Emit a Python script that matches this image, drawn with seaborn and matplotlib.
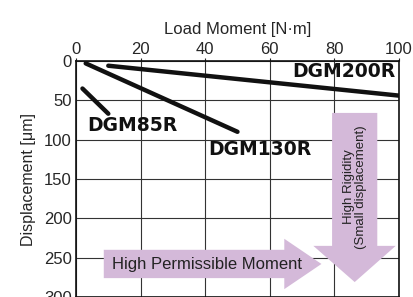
import pandas as pd
import matplotlib.pyplot as plt
import matplotlib.patches as mpatches
import seaborn as sns

# line end points
models = ["DGM85R", "DGM130R", "DGM200R"]
moment_85 = [2, 10]
disp_85 = [35, 67]
moment_130 = [3, 50]
disp_130 = [3, 90]
moment_200 = [10, 100]
disp_200 = [6, 44]

xticks = [0, 20, 40, 60, 80, 100]
yticks = [0, 50, 100, 150, 200, 250, 300]

df = pd.DataFrame({
    "model": ["DGM85R"] * 2 + ["DGM130R"] * 2 + ["DGM200R"] * 2,
    "moment": moment_85 + moment_130 + moment_200,
    "disp": disp_85 + disp_130 + disp_200,
})

sns.set_theme(style="white")
plt.rcParams['font.family'] = ['Liberation Sans Narrow', 'Liberation Sans', 'DejaVu Sans']

fig = plt.figure(figsize=(4.14, 2.97), dpi=100)
ax = fig.add_axes([0.1836, 0.0, 0.78, 0.7946])

arrow_col = "#d4b9d9"
# horizontal arrow: High Permissible Moment
ax.add_patch(mpatches.Polygon(
    [(8.6, 240), (64.5, 240), (64.5, 226), (76, 258), (64.5, 290), (64.5, 276), (8.6, 276)],
    closed=True, facecolor=arrow_col, edgecolor="none", zorder=1))
# vertical arrow: High Rigidity
ax.add_patch(mpatches.Polygon(
    [(79.3, 66), (93.3, 66), (93.3, 235), (99, 235), (86.3, 281), (73.5, 235), (79.3, 235)],
    closed=True, facecolor=arrow_col, edgecolor="none", zorder=1))

sns.lineplot(data=df, x="moment", y="disp", units="model", estimator=None,
             color="#111111", linewidth=3.2, ax=ax, legend=False, zorder=3)
for ln in ax.lines:
    ln.set_solid_capstyle("round")

ax.set_xlim(0, 100)
ax.set_ylim(300, 0)
ax.set_xticks(xticks)
ax.set_yticks(yticks)
ax.xaxis.tick_top()
ax.xaxis.set_label_position("top")
ax.tick_params(axis="both", labelsize=12, length=2, width=0.8, color="#222222", pad=1)
ax.grid(True, color="#333333", linewidth=0.8, zorder=0)
ax.set_axisbelow(True)
for s in ax.spines.values():
    s.set_color("#111111")
    s.set_linewidth(1.2)

ax.set_xlabel("Load Moment [N·m]", fontsize=12, labelpad=6)
ax.set_ylabel("Displacement [μm]", fontsize=11.5, labelpad=6)

bold = dict(fontsize=13.5, fontweight="bold", family=["DejaVu Sans"], color="#111111", zorder=4)
ax.text(99, 13, "DGM200R", ha="right", va="center", **bold)
ax.text(3.5, 82, "DGM85R", ha="left", va="center", **bold)
ax.text(41, 113, "DGM130R", ha="left", va="center", **bold)

ax.text(11, 259, "High Permissible Moment", ha="left", va="center",
        fontsize=12, color="#222222", zorder=4)
ax.text(86.3, 160, "High Rigidity\n(Small displacement)", ha="center", va="center",
        rotation=90, fontsize=9.5, color="#222222", linespacing=1.0, zorder=4)

fig.savefig("out.png", dpi=100)
